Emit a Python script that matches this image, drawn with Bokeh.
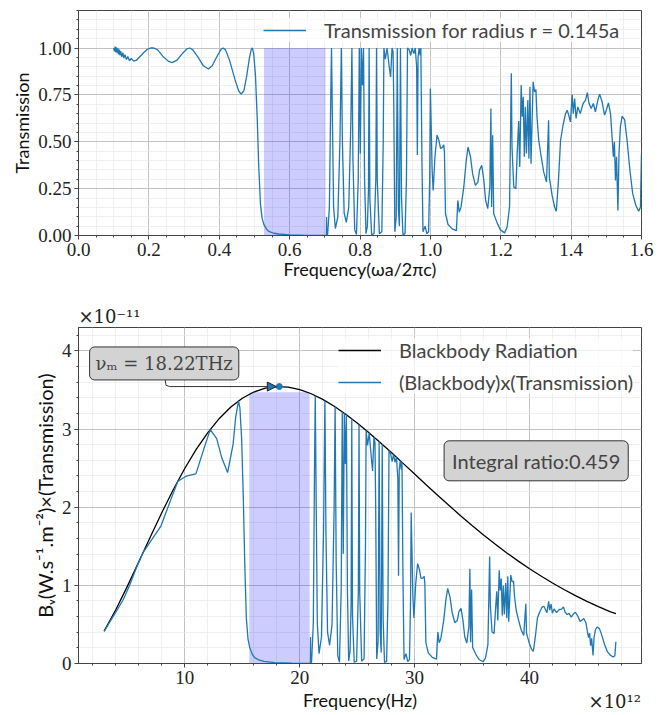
from bokeh.plotting import figure
from bokeh.models import (Legend, LegendItem, FixedTicker, Label, Title, Arrow,
                          NormalHead, Range1d, PrintfTickFormatter, Div)
from bokeh.layouts import column
from bokeh.embed import file_html
from bokeh.resources import INLINE

# ---------------- data ----------------
# Top panel: transmission vs normalised frequency (omega a / 2 pi c)
FREQ_NORM = [
    0.100, 0.102, 0.104, 0.106, 0.108, 0.110, 0.112, 0.114, 0.116, 0.118,
    0.120, 0.123, 0.126, 0.129, 0.132, 0.136, 0.140, 0.145, 0.150, 0.157,
    0.165, 0.175, 0.185, 0.195, 0.205, 0.214, 0.225, 0.240, 0.255, 0.266,
    0.280, 0.295, 0.308, 0.316, 0.325, 0.340, 0.355, 0.369, 0.380, 0.395,
    0.405, 0.411, 0.418, 0.430, 0.445, 0.455, 0.462, 0.470, 0.478, 0.486,
    0.491, 0.494, 0.498, 0.503, 0.508, 0.512, 0.517, 0.522, 0.527, 0.534,
    0.541, 0.555, 0.569, 0.600, 0.650, 0.700, 0.7045, 0.705, 0.7055,
    0.708, 0.713, 0.717, 0.719, 0.721, 0.725, 0.730, 0.737, 0.743, 0.747,
    0.750, 0.755, 0.761, 0.768, 0.774, 0.777, 0.780, 0.785, 0.790, 0.795,
    0.798, 0.801, 0.804, 0.807, 0.810, 0.813, 0.817, 0.821, 0.824, 0.826,
    0.828, 0.833, 0.840, 0.845, 0.847, 0.849, 0.855, 0.862, 0.866, 0.868,
    0.872, 0.877, 0.883, 0.887, 0.891, 0.894, 0.896, 0.899, 0.903, 0.906,
    0.909, 0.912, 0.915, 0.918, 0.922, 0.928, 0.932, 0.935, 0.940, 0.944,
    0.948, 0.953, 0.957, 0.961, 0.963, 0.965, 0.968, 0.971, 0.973, 0.976,
    0.979, 0.985, 0.990, 0.995, 0.998, 1.000,
    1.005, 1.008, 1.013, 1.019, 1.024, 1.029, 1.034, 1.038, 1.040, 1.043,
    1.050, 1.062, 1.074, 1.078, 1.082, 1.087, 1.095, 1.102, 1.107, 1.114,
    1.120, 1.128, 1.135, 1.140, 1.146, 1.152, 1.157, 1.163, 1.169, 1.172,
    1.174, 1.177, 1.180, 1.190, 1.199, 1.211, 1.218, 1.225, 1.230, 1.232,
    1.237, 1.243, 1.247, 1.251, 1.254, 1.258, 1.261, 1.264, 1.267, 1.270,
    1.273, 1.277, 1.280, 1.283, 1.286, 1.292, 1.296, 1.300, 1.303, 1.308,
    1.315, 1.322, 1.330, 1.336, 1.338, 1.346, 1.353, 1.358, 1.364, 1.370,
    1.377, 1.384, 1.389, 1.393, 1.398, 1.403, 1.406, 1.410, 1.414, 1.419,
    1.426, 1.434, 1.441, 1.446, 1.451, 1.457, 1.463, 1.469, 1.476, 1.481,
    1.488, 1.495, 1.500, 1.506, 1.512, 1.517, 1.520, 1.523, 1.526, 1.529,
    1.533, 1.536, 1.540, 1.545, 1.552, 1.559, 1.567, 1.575, 1.584, 1.592,
    1.597, 1.600,
]
TRANSMISSION = [
    1.000, 0.982, 1.008, 0.978, 1.004, 0.972, 0.998, 0.966, 0.992, 0.960,
    0.984, 0.953, 0.975, 0.946, 0.965, 0.938, 0.954, 0.932, 0.944, 0.930,
    0.935, 0.955, 0.975, 0.992, 1.000, 1.000, 0.990, 0.955, 0.930, 0.922,
    0.935, 0.970, 0.995, 1.000, 0.990, 0.950, 0.905, 0.888, 0.905, 0.960,
    0.993, 1.000, 0.990, 0.930, 0.830, 0.772, 0.754, 0.772, 0.850, 0.950,
    0.993, 1.000, 0.970, 0.850, 0.620, 0.380, 0.170, 0.090, 0.058, 0.035,
    0.022, 0.012, 0.008, 0.003, 0.001, 0.000, 0.000, 0.098, 0.000,
    0.005, 0.150, 0.750, 1.000, 0.700, 0.150, 0.037, 0.100, 0.500, 1.000,
    0.500, 0.120, 0.070, 0.150, 0.600, 1.000, 0.400, 0.030, 0.005, 0.300,
    1.000, 0.437, 1.000, 0.800, 1.000, 0.300, 0.010, 0.050, 0.240, 1.000,
    0.200, 0.005, 0.010, 0.300, 1.000, 0.300, 0.010, 0.020, 0.500, 1.000,
    0.940, 1.000, 0.900, 0.846, 1.000, 0.980, 0.700, 0.020, 0.100, 1.000,
    0.150, 0.050, 1.000, 0.200, 0.005, 0.010, 0.300, 1.000, 0.990, 0.960,
    1.000, 0.970, 1.000, 0.900, 0.430, 0.950, 1.000, 0.960, 1.000, 0.400,
    0.020, 0.050, 0.010, 0.020, 0.300, 0.784,
    0.350, 0.240, 0.420, 0.535, 0.510, 0.464, 0.470, 0.483, 0.445, 0.116,
    0.060, 0.035, 0.026, 0.187, 0.125, 0.150, 0.259, 0.400, 0.472, 0.420,
    0.330, 0.267, 0.285, 0.350, 0.374, 0.294, 0.187, 0.143, 0.259, 0.677,
    0.152, 0.535, 0.116, 0.066, 0.030, 0.014, 0.045, 0.152, 0.865, 0.472,
    0.259, 0.250, 0.450, 0.610, 0.366, 0.802, 0.633, 0.740, 0.420, 0.686,
    0.437, 0.722, 0.410, 0.793, 0.383, 0.820, 0.766, 0.778, 0.633, 0.508,
    0.420, 0.339, 0.285, 0.615, 0.312, 0.214, 0.152, 0.130, 0.294, 0.508,
    0.588, 0.650, 0.668, 0.642, 0.606, 0.752, 0.650, 0.731, 0.624, 0.686,
    0.650, 0.704, 0.722, 0.762, 0.704, 0.677, 0.704, 0.660, 0.722, 0.754,
    0.713, 0.642, 0.668, 0.707, 0.650, 0.508, 0.420, 0.500, 0.294, 0.420,
    0.134, 0.437, 0.579, 0.636, 0.618, 0.508, 0.348, 0.223, 0.160, 0.130,
    0.150, 0.437,
]
BAND_NORM = [0.527, 0.702]          # shaded band gap (normalised units)
BAND_TOP_NORM = 1.0

# Bottom panel: blackbody radiance (x1e-11) vs frequency (x1e12 Hz)
BB_FREQ_THZ = [2.97, 4, 5, 6, 7, 8, 9, 10, 11, 12, 13, 14, 15, 16, 17, 18, 19,
               20, 21, 22, 23, 24, 25, 26, 27, 28, 29, 30, 31, 32, 33, 34, 35,
               36, 37, 38, 39, 40, 41, 42, 43, 44, 45, 46, 47, 47.52]
BB_RADIANCE = [0.415, 0.691, 0.990, 1.305, 1.623, 1.933, 2.227, 2.499, 2.743,
               2.955, 3.136, 3.282, 3.395, 3.474, 3.523, 3.544, 3.538, 3.505,
               3.452, 3.380, 3.293, 3.190, 3.078, 2.956, 2.829, 2.696, 2.561,
               2.425, 2.288, 2.153, 2.022, 1.891, 1.766, 1.645, 1.529, 1.418,
               1.313, 1.213, 1.119, 1.030, 0.947, 0.869, 0.796, 0.728, 0.665,
               0.637]

PROD_FREQ_THZ = [
    2.97, 3.56, 4.16, 4.66, 5.20, 5.79, 6.36, 7.13, 7.90, 8.76, 9.39, 10.10,
    10.96, 11.73, 12.21, 12.77, 13.22, 13.72, 14.20, 14.43, 14.67, 14.79,
    14.94, 15.09, 15.21, 15.35, 15.50, 15.65, 15.86, 16.07, 16.48, 16.90,
    17.82, 19.31, 20.79, 20.92, 20.94, 20.95,
    21.03, 21.18, 21.29, 21.35, 21.41, 21.53, 21.68, 21.89, 22.07, 22.19,
    22.28, 22.42, 22.60, 22.81, 22.99, 23.08, 23.17, 23.31, 23.46, 23.61,
    23.70, 23.79, 23.88, 23.97, 24.06, 24.15, 24.26, 24.38, 24.47, 24.53,
    24.59, 24.74, 24.95, 25.10, 25.16, 25.22, 25.39, 25.60, 25.72, 25.78,
    25.90, 26.05, 26.23, 26.34, 26.46, 26.55, 26.61, 26.70, 26.82, 26.91,
    27.00, 27.09, 27.18, 27.26, 27.38, 27.56, 27.68, 27.77, 27.92, 28.04,
    28.16, 28.30, 28.42, 28.54, 28.60, 28.66, 28.75, 28.84, 28.90, 28.99,
    29.08, 29.25, 29.40, 29.55, 29.64, 29.70,
    29.85, 29.94, 30.09, 30.26, 30.41, 30.56, 30.71, 30.83, 30.89, 30.98,
    31.19, 31.54, 31.90, 32.02, 32.14, 32.28, 32.52, 32.73, 32.88, 33.09,
    33.26, 33.50, 33.71, 33.86, 34.04, 34.21, 34.36, 34.54, 34.72, 34.81,
    34.87, 34.96, 35.05, 35.34, 35.61, 35.97, 36.17, 36.38, 36.53, 36.59,
    36.74, 36.92, 37.04, 37.15, 37.24, 37.36, 37.45, 37.54, 37.63, 37.72,
    37.81, 37.93, 38.02, 38.11, 38.19, 38.37, 38.49, 38.61, 38.70, 38.85,
    39.06, 39.26, 39.50, 39.68, 39.74, 39.98, 40.18, 40.33, 40.51, 40.69,
    40.90, 41.10, 41.25, 41.37, 41.52, 41.67, 41.76, 41.88, 41.99, 42.14,
    42.35, 42.59, 42.80, 42.95, 43.09, 43.27, 43.45, 43.63, 43.84, 43.99,
    44.19, 44.40, 44.55, 44.73, 44.91, 45.05, 45.14, 45.23, 45.32, 45.41,
    45.53, 45.62, 45.74, 45.89, 46.09, 46.30, 46.54, 46.78, 47.04, 47.28,
    47.43, 47.52,
]
PROD_RADIANCE = [
    0.410, 0.556, 0.698, 0.826, 1.006, 1.229, 1.419, 1.588, 1.754, 2.091,
    2.333, 2.397, 2.427, 2.782, 2.993, 2.877, 2.629, 2.444, 2.809, 3.164,
    3.358, 3.270, 2.880, 2.108, 1.297, 0.581, 0.309, 0.200, 0.121, 0.076,
    0.042, 0.028, 0.011, 0.004, 0.000, 0.000, 0.339, 0.000,
    0.017, 0.516, 2.573, 3.427, 2.396, 0.512, 0.126, 0.339, 1.687, 3.363,
    1.678, 0.401, 0.233, 0.497, 1.976, 3.285, 1.310, 0.098, 0.016, 0.969,
    3.221, 1.404, 3.202, 2.554, 3.183, 0.952, 0.032, 0.157, 0.753, 3.131,
    0.625, 0.016, 0.031, 0.920, 3.059, 0.916, 0.030, 0.060, 1.495, 2.983,
    2.790, 2.950, 2.634, 2.464, 2.898, 2.828, 2.015, 0.057, 0.285, 2.840,
    0.424, 0.141, 2.805, 0.559, 0.014, 0.028, 0.821, 2.726, 2.680, 2.583,
    2.674, 2.575, 2.639, 2.361, 1.124, 2.477, 2.595, 2.480, 2.574, 1.025,
    0.051, 0.126, 0.025, 0.050, 0.742, 1.933,
    0.856, 0.584, 1.013, 1.278, 1.208, 1.089, 1.094, 1.116, 1.025, 0.266,
    0.136, 0.078, 0.056, 0.402, 0.267, 0.317, 0.540, 0.823, 0.962, 0.844,
    0.656, 0.522, 0.550, 0.668, 0.705, 0.548, 0.345, 0.261, 0.466, 1.212,
    0.271, 0.947, 0.204, 0.114, 0.051, 0.023, 0.073, 0.243, 1.370, 0.744,
    0.404, 0.385, 0.686, 0.923, 0.550, 1.194, 0.936, 1.087, 0.613, 0.994,
    0.629, 1.030, 0.581, 1.115, 0.535, 1.131, 1.046, 1.053, 0.851, 0.675,
    0.549, 0.436, 0.360, 0.766, 0.387, 0.260, 0.182, 0.154, 0.343, 0.583,
    0.663, 0.722, 0.733, 0.697, 0.650, 0.796, 0.683, 0.761, 0.643, 0.698,
    0.651, 0.691, 0.696, 0.725, 0.662, 0.627, 0.642, 0.593, 0.636, 0.656,
    0.610, 0.539, 0.554, 0.577, 0.521, 0.403, 0.330, 0.390, 0.228, 0.323,
    0.102, 0.330, 0.432, 0.467, 0.446, 0.360, 0.241, 0.151, 0.106, 0.085,
    0.096, 0.278,
]
BAND_THZ = [15.6, 20.86]
BAND_TOP_RAD = 3.47
PEAK_FREQ_THZ = 18.22
PEAK_RAD = 3.544
INTEGRAL_RATIO = 0.459

X1_TICKS = [0.0, 0.2, 0.4, 0.6, 0.8, 1.0, 1.2, 1.4, 1.6]
Y1_TICKS = [0.0, 0.25, 0.5, 0.75, 1.0]
X2_TICKS = [10, 20, 30, 40]
Y2_TICKS = [0, 1, 2, 3, 4]

# ---------------- styling ----------------
BLUE = "#1f77b4"
SPINE = "#444444"
SANS = "Lato"
SERIF = "Liberation Serif"


def style(p, xticks, xminor, yticks, yminor, xfmt, yfmt):
    p.xaxis.ticker = FixedTicker(ticks=xticks, minor_ticks=xminor)
    p.yaxis.ticker = FixedTicker(ticks=yticks, minor_ticks=yminor)
    p.xgrid.ticker = p.xaxis[0].ticker
    p.ygrid.ticker = p.yaxis[0].ticker
    p.xaxis.formatter = PrintfTickFormatter(format=xfmt)
    p.yaxis.formatter = PrintfTickFormatter(format=yfmt)
    for g in (p.xgrid, p.ygrid):
        g.grid_line_color = "#b8b8b8"
        g.grid_line_width = 0.8
        g.minor_grid_line_color = "#ebebeb"
        g.minor_grid_line_width = 0.8
    for ax in (p.xaxis, p.yaxis):
        ax.axis_line_color = SPINE
        ax.major_tick_line_color = SPINE
        ax.minor_tick_line_color = SPINE
        ax.major_tick_in = 0
        ax.major_tick_out = 4
        ax.minor_tick_in = 0
        ax.minor_tick_out = 2
        ax.major_label_standoff = 3
        ax.major_label_text_font = SERIF
        ax.major_label_text_font_size = "19px"
        ax.major_label_text_color = "#222222"
        ax.axis_label_text_font = SANS
        ax.axis_label_text_font_size = "18px"
        ax.axis_label_text_font_style = "normal"
        ax.axis_label_text_color = "#111111"
    p.yaxis.axis_label_standoff = 2
    p.outline_line_color = SPINE
    p.outline_line_width = 1
    p.background_fill_color = "white"
    p.border_fill_color = "white"


# ---------------- top figure ----------------
p1 = figure(width=655, height=287, x_range=Range1d(0, 1.6), y_range=Range1d(0, 1.2),
            output_backend="svg", toolbar_location=None,
            min_border_left=78, min_border_right=14, min_border_top=10, min_border_bottom=52)
style(p1, X1_TICKS, [round(0.05 * i, 2) for i in range(33)],
      Y1_TICKS, [round(0.05 * i, 2) for i in range(25)], "%.1f", "%.2f")
p1.xaxis.axis_label = "Frequency(ωa/2πc)"
p1.xaxis.axis_label_standoff = -1
p1.yaxis.axis_label = "Transmission"

p1.quad(left=[BAND_NORM[0]], right=[BAND_NORM[1]], bottom=[0], top=[BAND_TOP_NORM],
        fill_color="blue", fill_alpha=0.2, line_color=None)
r_t = p1.line(FREQ_NORM, TRANSMISSION, line_color=BLUE, line_width=1.3)

leg1 = Legend(items=[LegendItem(label="Transmission for radius r = 0.145a", renderers=[r_t])],
              location=(185, 193), glyph_width=43, glyph_height=20, label_standoff=18,
              label_text_font=SANS, label_text_font_size="20px", padding=4, spacing=0,
              border_line_color=None, background_fill_alpha=0.7)
p1.add_layout(leg1)

# ---------------- bottom figure ----------------
p2 = figure(width=655, height=428, x_range=Range1d(0.74, 49.75), y_range=Range1d(0, 4.3),
            output_backend="svg", toolbar_location=None,
            min_border_left=78, min_border_right=14, min_border_top=40, min_border_bottom=52)
style(p2, X2_TICKS, [2 * i for i in range(26)], Y2_TICKS,
      [round(0.2 * i, 1) for i in range(22)], "%d", "%d")
p2.xaxis.axis_label = "Frequency(Hz)"
p2.xaxis.axis_label_standoff = 2
p2.yaxis.axis_label = "Bᵥ(W.s⁻¹.m⁻²)×(Transmission)"
p2.yaxis.axis_label_text_font_size = "20px"

p2.quad(left=[BAND_THZ[0]], right=[BAND_THZ[1]], bottom=[0], top=[BAND_TOP_RAD],
        fill_color="blue", fill_alpha=0.2, line_color=None)
r_bb = p2.line(BB_FREQ_THZ, BB_RADIANCE, line_color="black", line_width=1.3)
r_pr = p2.line(PROD_FREQ_THZ, PROD_RADIANCE, line_color=BLUE, line_width=1.3)

# peak annotation
ANNOT_X = 8.28
ANNOT_Y = 3.635
p2.line([ANNOT_X, ANNOT_X + 0.08, ANNOT_X + 0.4], [ANNOT_Y, PEAK_RAD + 0.015, PEAK_RAD],
        line_color="#333333", line_width=1)
p2.add_layout(Arrow(end=NormalHead(size=9, fill_color=BLUE, line_color="#222222", line_width=1),
                    x_start=ANNOT_X + 0.4, y_start=PEAK_RAD,
                    x_end=PEAK_FREQ_THZ - 0.26, y_end=PEAK_RAD,
                    line_color="#333333", line_width=1))
p2.scatter([PEAK_FREQ_THZ], [PEAK_RAD], size=6, color=BLUE)

p2.add_layout(Label(x=8.2, y=3.84, text=f"νₘ = {PEAK_FREQ_THZ}THz",
                    text_align="center", text_baseline="middle",
                    text_font="DejaVu Serif", text_font_size="18px",
                    background_fill_color="#d3d3d3", border_line_color="#333333",
                    border_line_width=1, padding=6, border_radius=5))
p2.add_layout(Label(x=40.58, y=2.594, text=f"Integral ratio:{INTEGRAL_RATIO}",
                    text_align="center", text_baseline="middle",
                    text_font=SANS, text_font_size="20px",
                    background_fill_color="#d3d3d3", border_line_color="#333333",
                    border_line_width=1, padding=8, border_radius=5))

leg2 = Legend(items=[LegendItem(label="Blackbody Radiation", renderers=[r_bb]),
                     LegendItem(label="(Blackbody)x(Transmission)", renderers=[r_pr])],
              location=(260, 269), glyph_width=43, glyph_height=20, label_standoff=18,
              label_text_font=SANS, label_text_font_size="20px", padding=4, spacing=8,
              border_line_color=None, background_fill_alpha=0.7)
p2.add_layout(leg2)

p2.add_layout(Title(text="×10⁻¹¹", align="left", text_font="DejaVu Serif",
                    text_font_size="18px", text_font_style="normal",
                    text_color="#222222", standoff=1), "above")

# x-axis offset text, placed in the page under the right end of the axis
offset_x = Div(text="×10¹²", width=70, height=22, margin=(-24, 0, 0, 571),
               styles={"font-family": "DejaVu Serif", "font-size": "18px",
                       "color": "#222222", "text-align": "right",
                       "line-height": "22px"})

layout = column(p1, p2, offset_x)
open("out.html", "w").write(file_html(layout, INLINE))
